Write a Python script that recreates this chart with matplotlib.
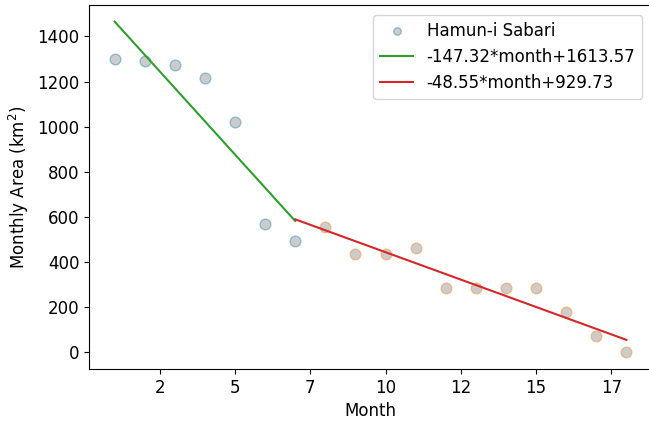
import numpy as np
from matplotlib import pyplot as plt
from matplotlib.ticker import MultipleLocator, FormatStrFormatter

months_a = [1, 2, 3, 4, 5, 6, 7]
area_a = [1300, 1290, 1275, 1215, 1020, 570, 495]
months_b = [8, 9, 10, 11, 12, 13, 14, 15, 16, 17, 18]
area_b = [555, 435, 435, 465, 285, 285, 285, 285, 180, 75, 0]

fit_a = (-147.32, 1613.57)
fit_b = (-48.55, 929.73)

plt.rcParams['font.size'] = 12

fig = plt.figure(figsize=(6.49, 4.26), dpi=100)
ax = fig.add_axes([89/649, 57/426, 563/649, 364/426])

ax.scatter(months_a, area_a, s=60, c='gray', alpha=0.4, edgecolors='C0',
           linewidths=1.0, label='Hamun-i Sabari')
ax.scatter(months_b, area_b, s=60, c='gray', alpha=0.4, edgecolors='C1',
           linewidths=1.0)

xa = np.array([months_a[0], months_a[-1]])
ax.plot(xa, fit_a[0]*xa + fit_a[1], color='tab:green',
        label='%.2f*month+%.2f' % fit_a)
xb = np.array([months_a[-1], months_b[-1]])
ax.plot(xb, fit_b[0]*xb + fit_b[1], color='tab:red',
        label='%.2f*month+%.2f' % fit_b)

ax.xaxis.set_major_locator(MultipleLocator(2.5))
ax.xaxis.set_major_formatter(FormatStrFormatter('%d'))
ax.set_xlabel('Month')
ax.set_ylabel('Monthly Area (km$^2$)')
ax.legend(loc='upper right', borderaxespad=0.6, markerscale=0.7)

fig.savefig('out.png', dpi=100)
